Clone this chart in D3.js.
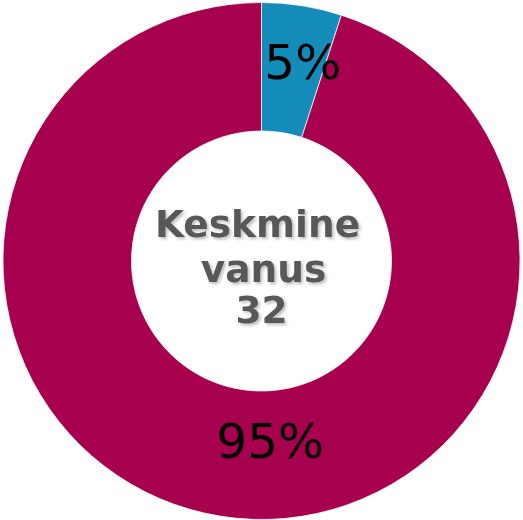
<!DOCTYPE html>
<html>
<head>
<meta charset="utf-8">
<script src="https://cdn.jsdelivr.net/npm/d3@7"></script>
<style>
html,body{margin:0;padding:0;background:#fff;}
svg{display:block;}
</style>
</head>
<body>
<svg id="chart" width="523" height="520"></svg>
<script>
const categories = ["A", "B"];
const values = [5, 95];
const labels = ["5%", "95%"];
const colors = ["#138CBA", "#A6004F"];
const centerLines = ["Keskmine", "vanus", "32"];

const svg = d3.select("#chart");
const cx = 261.5, cy = 261, outerR = 258.5, innerR = 130;
const g = svg.append("g").attr("transform", `translate(${cx},${cy})`);

const pie = d3.pie().sort(null).value(d => d)(values);
const arc = d3.arc().innerRadius(innerR).outerRadius(outerR);
g.selectAll("path.slice").data(pie).join("path")
  .attr("class", "slice")
  .attr("d", arc)
  .attr("fill", (d, i) => colors[i])
  .attr("stroke", "#fff")
  .attr("stroke-width", 0.75);

const labelArc = d3.arc().innerRadius(200).outerRadius(200);
const offsets = [[10, -2], [40, -18]];
g.selectAll("text.lbl").data(pie).join("text")
  .attr("class", "lbl")
  .attr("x", (d, i) => labelArc.centroid(d)[0] + offsets[i][0])
  .attr("y", (d, i) => labelArc.centroid(d)[1] + offsets[i][1] + 17.5)
  .attr("text-anchor", "middle")
  .attr("font-family", "DejaVu Sans, Verdana, sans-serif")
  .attr("font-size", 48.5)
  .attr("fill", "#000")
  .text((d, i) => labels[i]);

const defs = svg.append("defs");
const f = defs.append("filter").attr("id", "sh").attr("x", "-20%").attr("y", "-20%").attr("width", "140%").attr("height", "140%");
f.append("feDropShadow").attr("dx", 2).attr("dy", 2).attr("stdDeviation", 1.5)
  .attr("flood-color", "#000").attr("flood-opacity", 0.25);

const baselines = [-24, 21, 62];
const dxs = [-4, 2, 0];
g.selectAll("text.ctr").data(centerLines).join("text")
  .attr("class", "ctr")
  .attr("x", (d, i) => dxs[i])
  .attr("y", (d, i) => baselines[i])
  .attr("text-anchor", "middle")
  .attr("font-family", "DejaVu Sans, Verdana, sans-serif")
  .attr("font-weight", "bold")
  .attr("font-size", 37.5)
  .attr("fill", "#595959")
  .attr("filter", "url(#sh)")
  .text(d => d);
</script>
</body>
</html>
